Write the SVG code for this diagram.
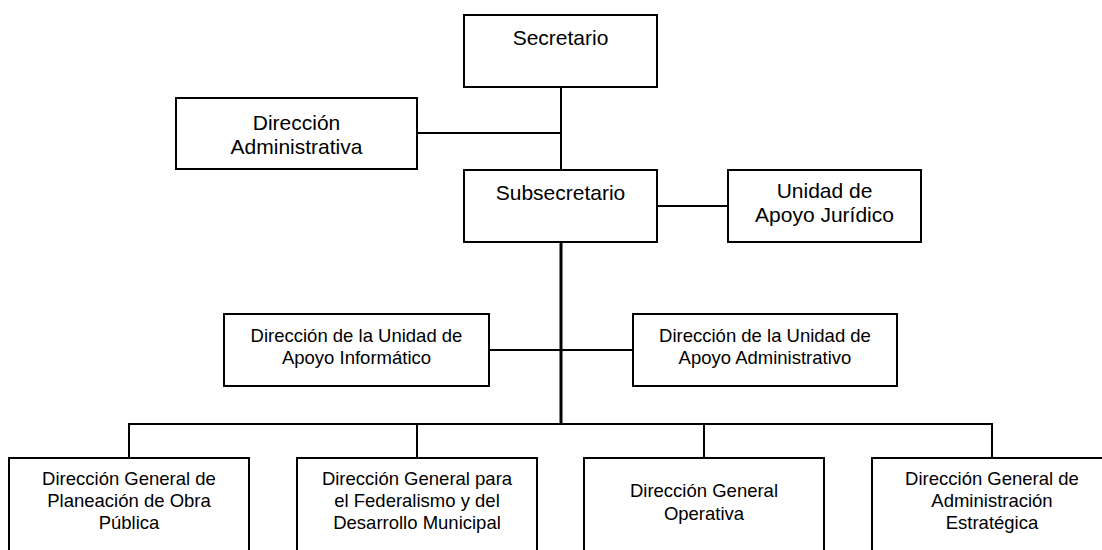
<svg xmlns="http://www.w3.org/2000/svg" width="1102" height="550" viewBox="0 0 1102 550">
<style>
.box{fill:#fff;stroke:#000;stroke-width:2}
.ln{fill:none;stroke:#000;stroke-width:2}
.thick{stroke-width:3}
.lg{font-family:"Liberation Sans",Arial,sans-serif;font-size:21px;text-anchor:middle;fill:#000}
.sm{font-family:"Liberation Sans",Arial,sans-serif;font-size:18.5px;text-anchor:middle;fill:#000}
</style>
<rect width="1102" height="550" fill="#fff"/>
<g id="connectors">
<line class="ln" x1="561" y1="87" x2="561" y2="170"/>
<line class="ln" x1="417" y1="133" x2="561" y2="133"/>
<line class="ln" x1="657" y1="206" x2="728" y2="206"/>
<line class="ln thick" x1="561" y1="242" x2="561" y2="424"/>
<line class="ln" x1="489" y1="350" x2="633" y2="350"/>
<polyline class="ln" points="129,458 129,424 992,424 992,458"/>
<line class="ln" x1="417" y1="424" x2="417" y2="458"/>
<line class="ln" x1="704" y1="424" x2="704" y2="458"/>
</g>
<g id="secretario">
<rect class="box" x="464" y="15" width="193" height="72"/>
<text class="lg" x="560.5" y="45">Secretario</text>
</g>
<g id="direccion-administrativa">
<rect class="box" x="176" y="98" width="241" height="71"/>
<text class="lg" x="296.5" y="130">Dirección</text>
<text class="lg" x="296.5" y="154">Administrativa</text>
</g>
<g id="subsecretario">
<rect class="box" x="464" y="170" width="193" height="72"/>
<text class="lg" x="560.5" y="200">Subsecretario</text>
</g>
<g id="unidad-apoyo-juridico">
<rect class="box" x="728" y="170" width="193" height="72"/>
<text class="lg" x="824.5" y="198">Unidad de</text>
<text class="lg" x="824.5" y="222">Apoyo Jurídico</text>
</g>
<g id="unidad-apoyo-informatico">
<rect class="box" x="224" y="314" width="265" height="72"/>
<text class="sm" x="356.5" y="342">Dirección de la Unidad de</text>
<text class="sm" x="356.5" y="364">Apoyo Informático</text>
</g>
<g id="unidad-apoyo-administrativo">
<rect class="box" x="633" y="314" width="264" height="72"/>
<text class="sm" x="765" y="342">Dirección de la Unidad de</text>
<text class="sm" x="765" y="364">Apoyo Administrativo</text>
</g>
<g id="dg-planeacion">
<rect class="box" x="9" y="458" width="240" height="100"/>
<text class="sm" x="129" y="485">Dirección General de</text>
<text class="sm" x="129" y="507">Planeación de Obra</text>
<text class="sm" x="129" y="529">Pública</text>
</g>
<g id="dg-federalismo">
<rect class="box" x="297" y="458" width="240" height="100"/>
<text class="sm" x="417" y="485">Dirección General para</text>
<text class="sm" x="417" y="507">el Federalismo y del</text>
<text class="sm" x="417" y="529">Desarrollo Municipal</text>
</g>
<g id="dg-operativa">
<rect class="box" x="584" y="458" width="240" height="100"/>
<text class="sm" x="704" y="497">Dirección General</text>
<text class="sm" x="704" y="520">Operativa</text>
</g>
<g id="dg-administracion-estrategica">
<rect class="box" x="872" y="458" width="240" height="100"/>
<text class="sm" x="992" y="485">Dirección General de</text>
<text class="sm" x="992" y="507">Administración</text>
<text class="sm" x="992" y="529">Estratégica</text>
</g>
</svg>
